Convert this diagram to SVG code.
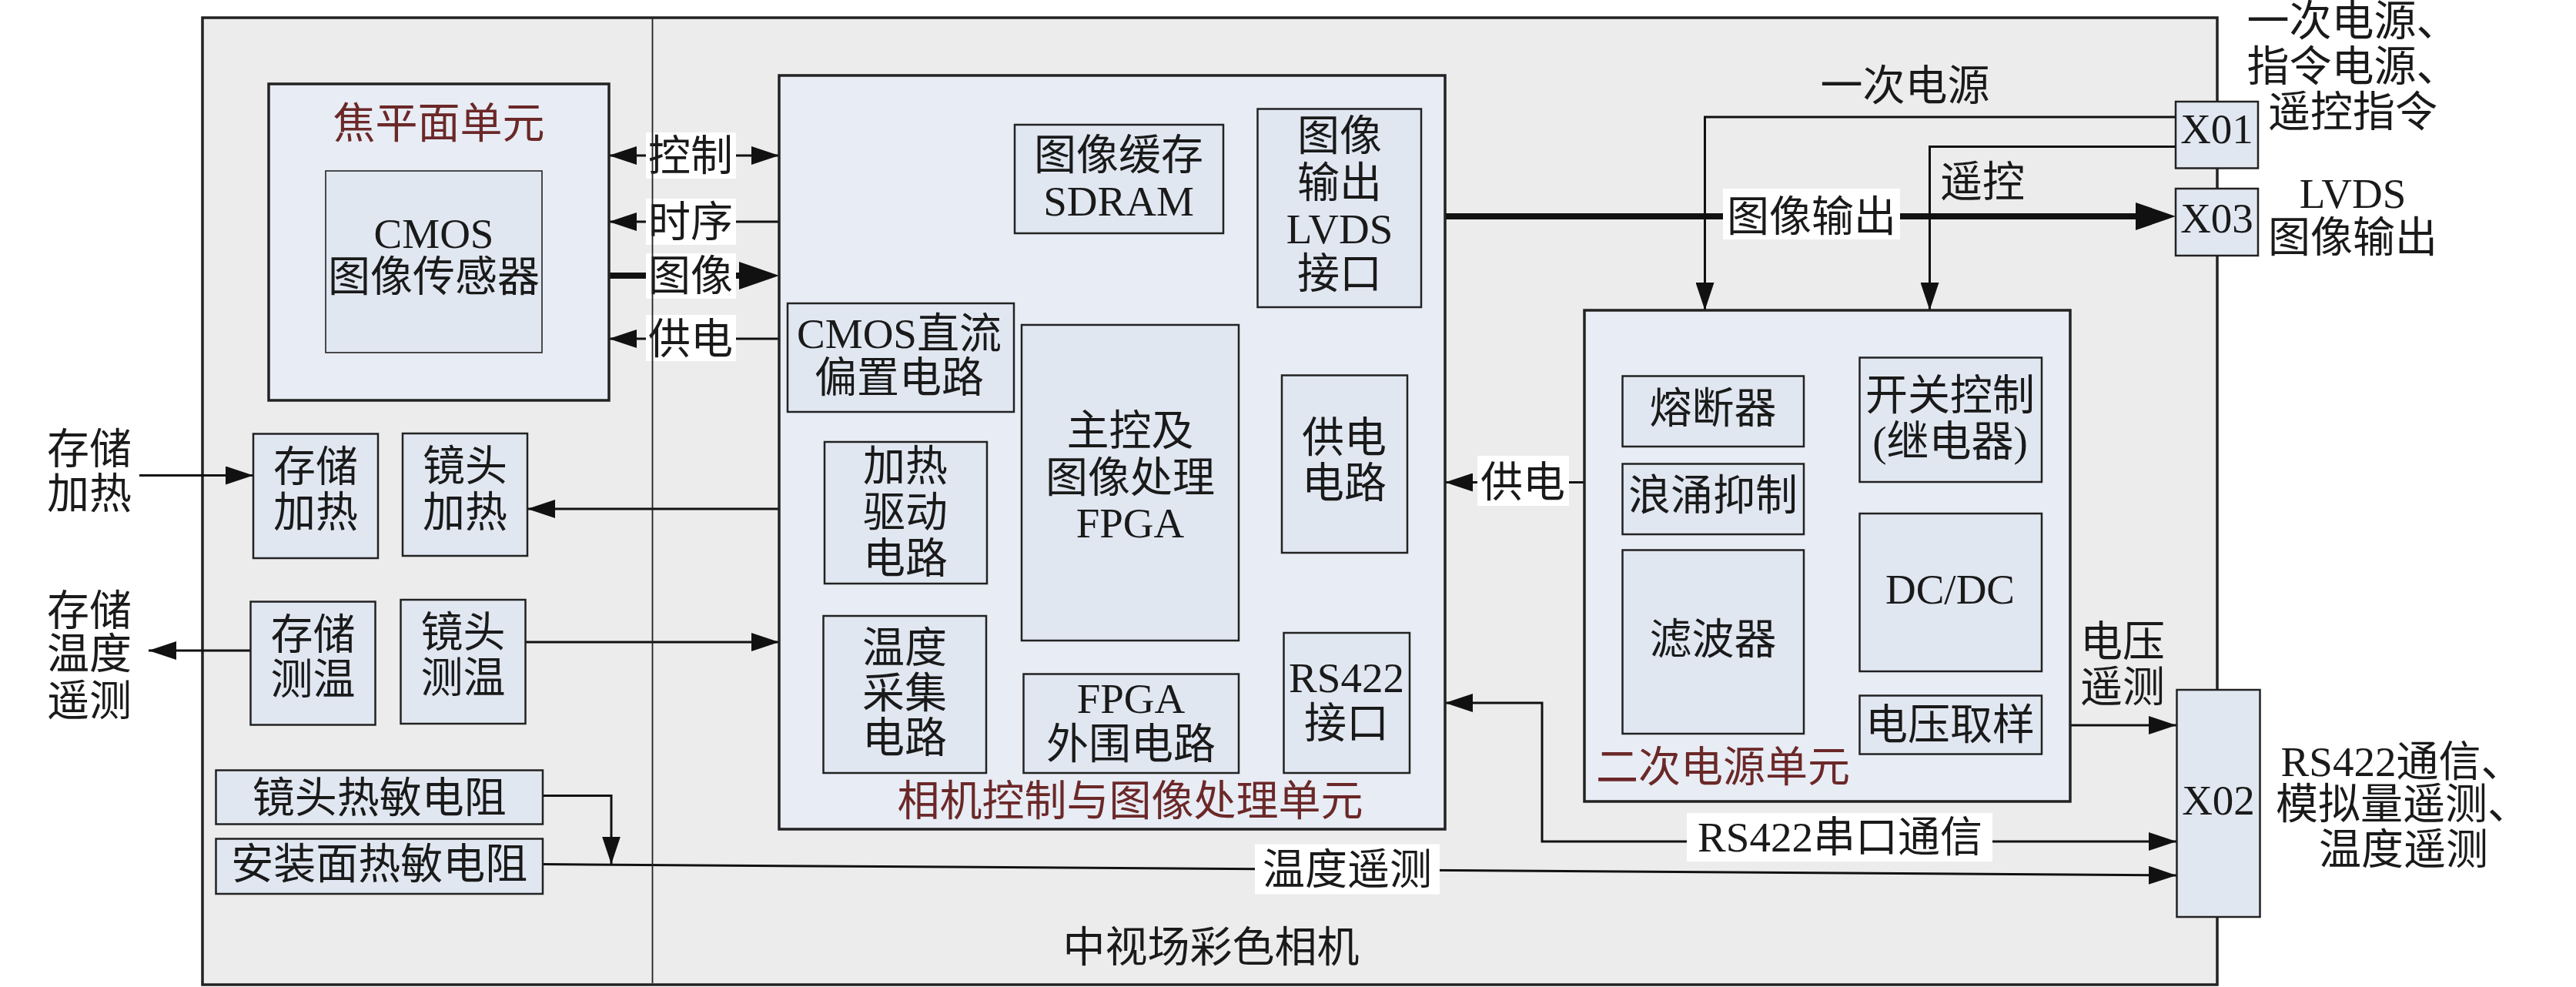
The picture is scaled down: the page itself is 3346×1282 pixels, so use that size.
<svg xmlns="http://www.w3.org/2000/svg" width="3346" height="1282" viewBox="0 0 3346 1282">
<style>
.frame{fill:#ececec;stroke:#222;stroke-width:3.5}
.unit{fill:#e8ecf4;stroke:#222;stroke-width:3.5}
.box{fill:#e1e7f1;stroke:#222;stroke-width:2.5}
.thin{fill:#e1e7f1;stroke:#222;stroke-width:1.6}
.t{font-family:"Liberation Serif","Noto Sans CJK SC",serif;font-size:55px;fill:#1a1a1a;text-anchor:middle;dominant-baseline:central}
.title{fill:#6b2828}
.lbl{fill:#fff}
.ln{stroke:#111;stroke-width:3;fill:none}
.thick{stroke:#111;stroke-width:8;fill:none}
.div{stroke:#222;stroke-width:1.8}
</style>
<defs>
<marker id="a" viewBox="0 0 36 24" refX="36" refY="12" markerWidth="36" markerHeight="24" markerUnits="userSpaceOnUse" orient="auto-start-reverse"><path d="M0,0 L36,12 L0,24 Z" fill="#111"/></marker>
<marker id="A" viewBox="0 0 52 36" refX="32" refY="18" markerWidth="52" markerHeight="36" markerUnits="userSpaceOnUse" orient="auto-start-reverse"><path d="M0,0 L52,18 L0,36 Z" fill="#111"/></marker>
</defs>

<g id="camera">
<rect class="frame" x="263" y="23" width="2617" height="1256"/>
<text class="t" x="1573" y="1230">中视场彩色相机</text>
</g>

<g id="connectors">
<line class="ln" x1="791" y1="202" x2="1012" y2="202" marker-start="url(#a)" marker-end="url(#a)"/>
<line class="ln" x1="1012" y1="288" x2="791" y2="288" marker-end="url(#a)"/>
<line class="thick" x1="791" y1="358" x2="992" y2="358" marker-end="url(#A)"/>
<line class="ln" x1="1012" y1="440" x2="791" y2="440" marker-end="url(#a)"/>
<line class="ln" x1="1012" y1="661" x2="685" y2="661" marker-end="url(#a)"/>
<line class="ln" x1="683" y1="834" x2="1012" y2="834" marker-end="url(#a)"/>
<line class="ln" x1="181" y1="617.5" x2="329" y2="617.5" marker-end="url(#a)"/>
<line class="ln" x1="325.5" y1="845" x2="193" y2="845" marker-end="url(#a)"/>
<path class="ln" d="M705,1033.5 H794 V1122.5" marker-end="url(#a)"/>
<line class="ln" x1="705" y1="1122.5" x2="2827" y2="1137" marker-end="url(#a)"/>
<line class="ln" x1="2058" y1="626.5" x2="1877" y2="626.5" marker-end="url(#a)"/>
<path class="ln" d="M1877,913 H2003 V1093 H2827" marker-start="url(#a)" marker-end="url(#a)"/>
<line class="ln" x1="2689" y1="942" x2="2827" y2="942" marker-end="url(#a)"/>
<path class="ln" d="M2826,152 H2214.5 V403" marker-end="url(#a)"/>
<path class="ln" d="M2826,190.5 H2506.5 V403" marker-end="url(#a)"/>
<line class="thick" x1="1877" y1="281" x2="2806" y2="281" marker-end="url(#A)"/>

<rect class="lbl" x="839" y="172" width="117" height="60"/>
<text class="t" x="897" y="202">控制</text>
<rect class="lbl" x="839" y="258" width="117" height="60"/>
<text class="t" x="897" y="288">时序</text>
<rect class="lbl" x="839" y="329" width="117" height="59"/>
<text class="t" x="897" y="358">图像</text>
<rect class="lbl" x="839" y="409" width="117" height="60"/>
<text class="t" x="897" y="440">供电</text>
<rect class="lbl" x="1630" y="1096.5" width="240" height="65"/>
<text class="t" x="1750" y="1129">温度遥测</text>
<rect class="lbl" x="1919" y="592" width="119" height="65"/>
<text class="t" x="1978" y="626">供电</text>
<rect class="lbl" x="2191" y="1056" width="397" height="63"/>
<text class="t" x="2390" y="1087.5">RS422串口通信</text>
<rect class="lbl" x="2238" y="245" width="230" height="66"/>
<text class="t" x="2353" y="281">图像输出</text>
<text class="t" x="2474.5" y="111">一次电源</text>
<text class="t" x="2575" y="236.5">遥控</text>
<text class="t" x="2757" y="833.5">电压</text>
<text class="t" x="2757" y="892.5">遥测</text>
</g>

<line class="div" x1="847.5" y1="23" x2="847.5" y2="1277"/>

<g id="focal-plane-unit">
<rect class="unit" x="349" y="109" width="442" height="411"/>
<text class="t title" x="570" y="160">焦平面单元</text>
</g>
<g id="cmos-sensor">
<rect class="thin" x="423" y="222" width="281" height="236"/>
<text class="t" x="563.5" y="303">CMOS</text>
<text class="t" x="563.5" y="359">图像传感器</text>
</g>

<g id="camera-control-unit">
<rect class="unit" x="1012" y="98" width="865" height="979"/>
<text class="t title" x="1468" y="1040">相机控制与图像处理单元</text>
</g>
<g id="sdram">
<rect class="box" x="1318" y="162" width="271" height="141"/>
<text class="t" x="1453" y="201">图像缓存</text>
<text class="t" x="1453" y="261">SDRAM</text>
</g>
<g id="lvds-if">
<rect class="box" x="1633.5" y="141.5" width="212.5" height="257.5"/>
<text class="t" x="1740" y="176.5">图像</text>
<text class="t" x="1740" y="237">输出</text>
<text class="t" x="1740" y="297">LVDS</text>
<text class="t" x="1740" y="355">接口</text>
</g>
<g id="cmos-bias">
<rect class="box" x="1023" y="394" width="294" height="141"/>
<text class="t" x="1168" y="433.5">CMOS直流</text>
<text class="t" x="1168" y="490.5">偏置电路</text>
</g>
<g id="main-fpga">
<rect class="box" x="1327" y="422" width="282" height="410"/>
<text class="t" x="1468" y="559.5">主控及</text>
<text class="t" x="1468" y="620">图像处理</text>
<text class="t" x="1468" y="679">FPGA</text>
</g>
<g id="power-circuit">
<rect class="box" x="1665" y="487.5" width="163" height="230.5"/>
<text class="t" x="1746" y="568.5">供电</text>
<text class="t" x="1746" y="627.5">电路</text>
</g>
<g id="heater-driver">
<rect class="box" x="1071" y="574" width="211" height="184"/>
<text class="t" x="1176" y="605.5">加热</text>
<text class="t" x="1176" y="665.5">驱动</text>
<text class="t" x="1176" y="725">电路</text>
</g>
<g id="temp-acq">
<rect class="box" x="1069.5" y="800" width="211.5" height="204"/>
<text class="t" x="1175" y="841">温度</text>
<text class="t" x="1175" y="900">采集</text>
<text class="t" x="1175" y="958">电路</text>
</g>
<g id="fpga-periph">
<rect class="box" x="1329.5" y="875.5" width="279.5" height="128.5"/>
<text class="t" x="1469" y="907">FPGA</text>
<text class="t" x="1469" y="966">外围电路</text>
</g>
<g id="rs422-if">
<rect class="box" x="1667.5" y="822" width="163.5" height="182"/>
<text class="t" x="1749" y="880">RS422</text>
<text class="t" x="1749" y="939">接口</text>
</g>

<g id="secondary-power-unit">
<rect class="unit" x="2058" y="403" width="631" height="638"/>
<text class="t title" x="2238" y="996">二次电源单元</text>
</g>
<g id="fuse">
<rect class="box" x="2107.5" y="488.5" width="235.5" height="91.5"/>
<text class="t" x="2225" y="530.5">熔断器</text>
</g>
<g id="surge">
<rect class="box" x="2107.5" y="602.5" width="235.5" height="91.5"/>
<text class="t" x="2225" y="643">浪涌抑制</text>
</g>
<g id="filter">
<rect class="box" x="2107.5" y="714.5" width="235.5" height="238.5"/>
<text class="t" x="2225" y="830">滤波器</text>
</g>
<g id="switch">
<rect class="box" x="2415.5" y="464.5" width="236.5" height="161.5"/>
<text class="t" x="2533" y="513">开关控制</text>
<text class="t" x="2533" y="573">(继电器)</text>
</g>
<g id="dcdc">
<rect class="box" x="2415.5" y="667" width="236.5" height="205"/>
<text class="t" x="2533" y="765">DC/DC</text>
</g>
<g id="v-sample">
<rect class="box" x="2415.5" y="903.5" width="236.5" height="76"/>
<text class="t" x="2533" y="941.5">电压取样</text>
</g>

<g id="store-heat">
<rect class="box" x="329" y="563.5" width="162" height="161.5"/>
<text class="t" x="410" y="606">存储</text>
<text class="t" x="410" y="665">加热</text>
</g>
<g id="lens-heat">
<rect class="box" x="523" y="563" width="162" height="159"/>
<text class="t" x="604" y="605">镜头</text>
<text class="t" x="604" y="665">加热</text>
</g>
<g id="store-temp">
<rect class="box" x="325.5" y="781.5" width="162" height="160"/>
<text class="t" x="406.5" y="824">存储</text>
<text class="t" x="406.5" y="882">测温</text>
</g>
<g id="lens-temp">
<rect class="box" x="520.5" y="779" width="162" height="161"/>
<text class="t" x="601.5" y="821">镜头</text>
<text class="t" x="601.5" y="880">测温</text>
</g>
<g id="lens-thermistor">
<rect class="box" x="280.5" y="1000.5" width="424.5" height="70"/>
<text class="t" x="492.7" y="1036">镜头热敏电阻</text>
</g>
<g id="mount-thermistor">
<rect class="box" x="280.5" y="1089.5" width="424.5" height="71.5"/>
<text class="t" x="492.7" y="1122">安装面热敏电阻</text>
</g>

<g id="x01">
<rect class="box" x="2826" y="132" width="107" height="86.5"/>
<text class="t" x="2879.5" y="167.5">X01</text>
</g>
<g id="x03">
<rect class="box" x="2826" y="245" width="107" height="87"/>
<text class="t" x="2879.5" y="283.5">X03</text>
</g>
<g id="x02">
<rect class="box" x="2827.5" y="896" width="108" height="295"/>
<text class="t" x="2881.5" y="1039">X02</text>
</g>

<g id="external-labels">
<text class="t" x="3056" y="27.5">一次电源、</text>
<text class="t" x="3056" y="86.5">指令电源、</text>
<text class="t" x="3056" y="145.5">遥控指令</text>
<text class="t" x="3056" y="251">LVDS</text>
<text class="t" x="3056" y="308">图像输出</text>
<text class="t" x="3120" y="989">RS422通信、</text>
<text class="t" x="3121" y="1044">模拟量遥测、</text>
<text class="t" x="3122" y="1103.5">温度遥测</text>
<text class="t" x="116" y="583">存储</text>
<text class="t" x="116" y="641">加热</text>
<text class="t" x="116" y="793.5">存储</text>
<text class="t" x="116" y="849.5">温度</text>
<text class="t" x="116" y="910">遥测</text>
</g>
</svg>
